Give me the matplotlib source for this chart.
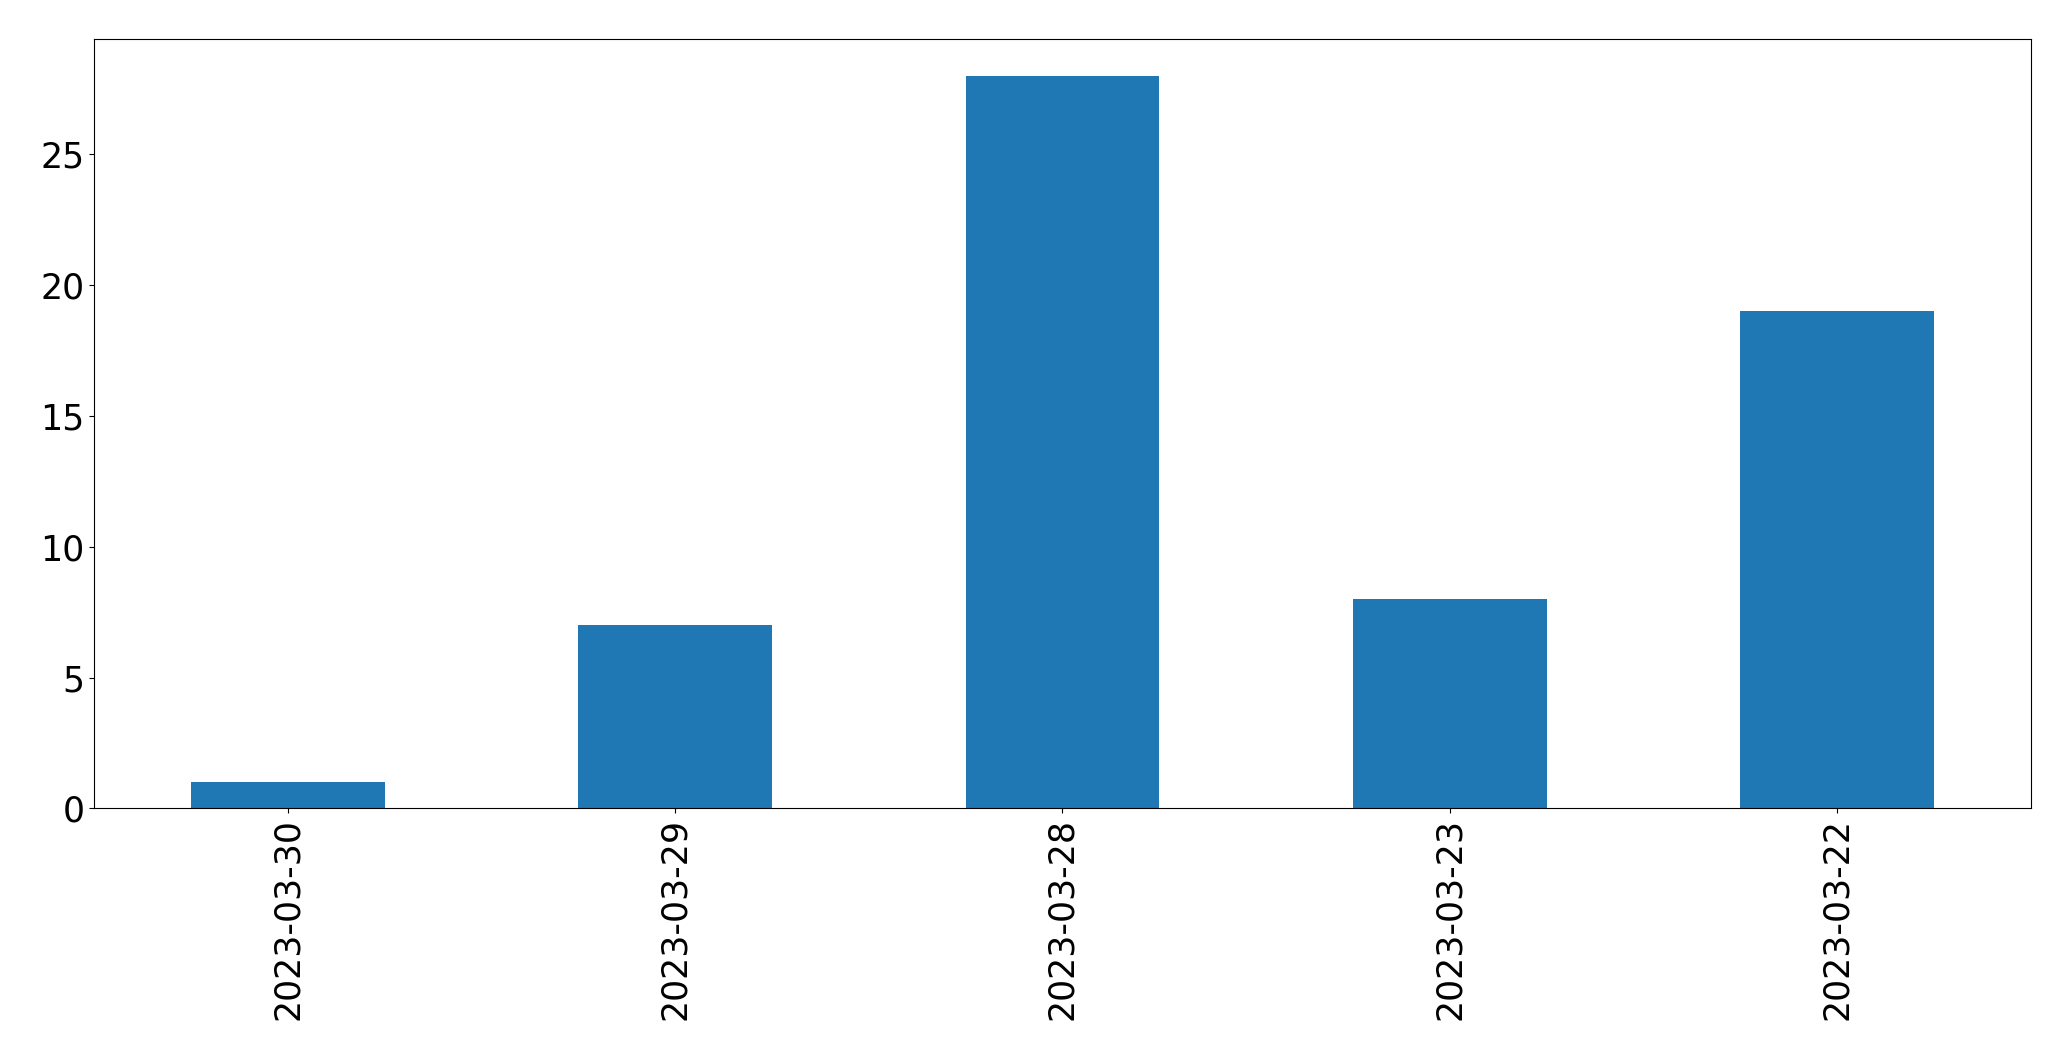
import matplotlib
matplotlib.use("Agg")
from matplotlib import pyplot as plt

dates = ['2023-03-30', '2023-03-29', '2023-03-28', '2023-03-23', '2023-03-22']
counts = [1, 7, 28, 8, 19]

fig, ax = plt.subplots(figsize=(20.71, 10.61), dpi=100)
x = range(len(dates))
ax.bar(x, counts, width=0.5, color='#1f77b4')
ax.set_xlim(-0.5, len(dates) - 0.5)
ax.set_ylim(0, max(counts) * 1.05)
ax.set_xticks(list(x))
ax.set_xticklabels(dates, rotation=90)
ax.tick_params(axis='both', which='major', labelsize=25)

plt.subplots_adjust(left=0.0455, right=0.9805, top=0.963, bottom=0.238)
fig.savefig('out.png')
